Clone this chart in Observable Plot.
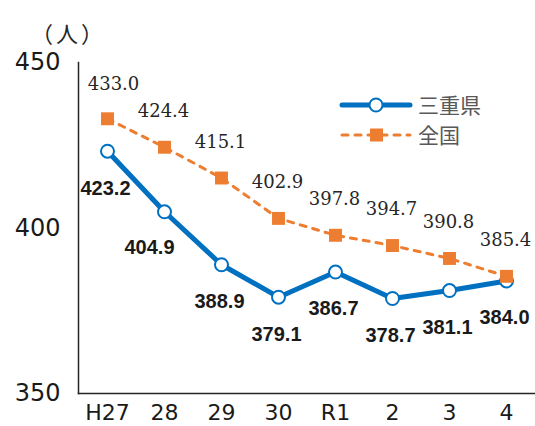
<!DOCTYPE html>
<html><head><meta charset="utf-8">
<script src="https://cdn.jsdelivr.net/npm/d3@7"></script>
<script src="https://cdn.jsdelivr.net/npm/@observablehq/plot@0.6"></script>
<style>
body{margin:0;background:#fff;}
#wrap{position:relative;width:535px;height:426px;overflow:hidden;}
#unit{position:absolute;left:31px;top:21px;font-family:"Noto Sans CJK JP";font-size:22px;color:#262626;line-height:1;letter-spacing:3px;}
#legend{position:absolute;left:0;top:0;}
</style></head><body><div id="wrap"><div id="unit"></div></div>
<script>
const years = ["H27","28","29","30","R1","2","3","4"];
const mie = [423.2,404.9,388.9,379.1,386.7,378.7,381.1,384.0];
const zenkoku = [433.0,424.4,415.1,402.9,397.8,394.7,390.8,385.4];
const yTicks = [350,400,450];
const seriesNames = ["三重県","全国"];
const unitLabel = "（人）";

const BLUE = "#0070C0", ORANGE = "#ED7D31";
const dMie = years.map((y,i)=>({year:y, value:mie[i]}));
const dZen = years.map((y,i)=>({year:y, value:zenkoku[i]}));

const chart = Plot.plot({
  width:535, height:426,
  marginTop:62, marginBottom:33, marginLeft:78, marginRight:0,
  x:{type:"point", domain:years, padding:0.5, label:null},
  y:{domain:[350,450], label:null},
  style:{background:"#fff"},
  marks:[
    Plot.axisY(yTicks,{tickSize:0, tickPadding:18, fontSize:24, fontFamily:"DejaVu Sans", fill:"#1a1a1a", label:null}),
    Plot.axisX({tickSize:0, tickPadding:11, fontSize:22, fontFamily:"DejaVu Sans", fill:"#1a1a1a", label:null}),
    Plot.frame({anchor:"left", stroke:"#262626", strokeWidth:1.5}),
    Plot.frame({anchor:"bottom", stroke:"#262626", strokeWidth:1.5}),
    Plot.line(dMie,{x:"year", y:"value", stroke:BLUE, strokeWidth:5, strokeLinejoin:"round", strokeLinecap:"round"}),
    Plot.dot(dMie,{x:"year", y:"value", r:6.5, fill:"#fff", stroke:BLUE, strokeWidth:2}),
    Plot.line(dZen,{x:"year", y:"value", stroke:ORANGE, strokeWidth:3, strokeDasharray:"6,7", strokeLinecap:"round"}),
    Plot.dot(dZen,{x:"year", y:"value", symbol:"square", r:7.3, fill:ORANGE, stroke:"none"}),
    Plot.text(dZen,{filter:d=>d.year==="H27", x:"year", y:"value", text:d=>d.value.toFixed(1), dy:-35, dx:6, fontSize:18, fontFamily:"DejaVu Serif", fill:"#262626"}),
    Plot.text(dZen,{filter:d=>d.year!=="H27", x:"year", y:"value", text:d=>d.value.toFixed(1), dy:-36, dx:-1, fontSize:18, fontFamily:"DejaVu Serif", fill:"#262626"}),
    Plot.text(dMie,{filter:d=>d.year==="28", x:"year", y:"value", text:d=>d.value.toFixed(1), dy:36, dx:-15, fontSize:20, fontWeight:"bold", fontFamily:"Liberation Sans", fill:"#1a1a1a"}),
    Plot.text(dMie,{filter:d=>d.year!=="28", x:"year", y:"value", text:d=>d.value.toFixed(1), dy:37, dx:-2, fontSize:20, fontWeight:"bold", fontFamily:"Liberation Sans", fill:"#1a1a1a"})
  ]
});
const wrap = document.getElementById("wrap");
wrap.appendChild(chart);
document.getElementById("unit").textContent = unitLabel;

// legend
const lg = d3.select(wrap).append("svg").attr("id","legend").attr("width",535).attr("height",426);
const rows = [
  {name:seriesNames[0], y:105},
  {name:seriesNames[1], y:135}
];
lg.append("line").attr("x1",342).attr("x2",410).attr("y1",rows[0].y).attr("y2",rows[0].y)
  .attr("stroke",BLUE).attr("stroke-width",5).attr("stroke-linecap","round");
lg.append("circle").attr("cx",376).attr("cy",rows[0].y).attr("r",6.5).attr("fill","#fff").attr("stroke",BLUE).attr("stroke-width",2);
lg.append("line").attr("x1",342).attr("x2",410).attr("y1",rows[1].y).attr("y2",rows[1].y)
  .attr("stroke",ORANGE).attr("stroke-width",3).attr("stroke-dasharray","6,7").attr("stroke-linecap","round");
lg.append("rect").attr("x",370).attr("y",rows[1].y-6.5).attr("width",13).attr("height",13).attr("fill",ORANGE);
rows.forEach(r=>{
  lg.append("text").attr("x",418).attr("y",r.y).attr("dy","0.36em").attr("font-family","Noto Sans CJK JP")
    .attr("font-size",21).attr("fill","#595959").text(r.name);
});
</script>
</body></html>
